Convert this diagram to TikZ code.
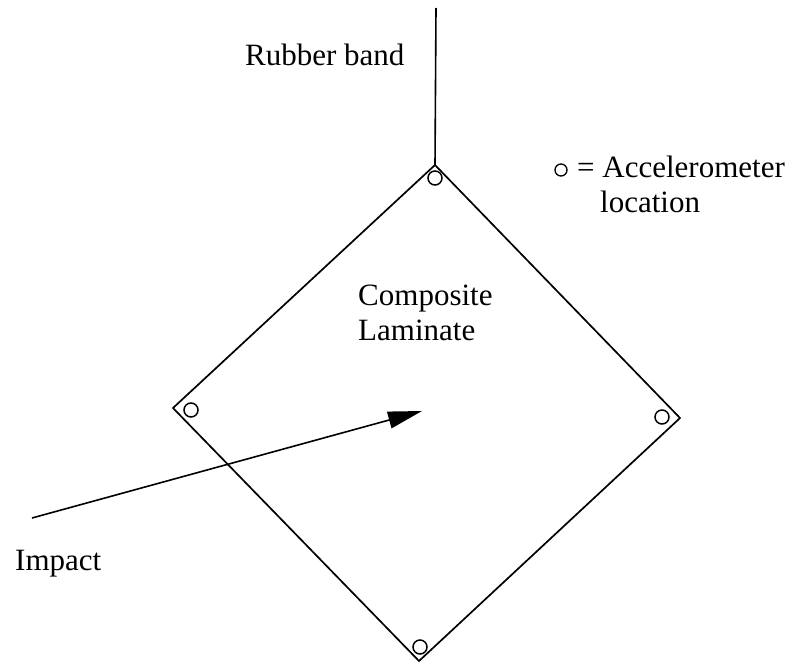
\documentclass[tikz,border=0pt]{standalone}
\usepackage{fontspec}
\setmainfont{Liberation Serif}
\usetikzlibrary{arrows.meta}

\begin{document}
\begin{tikzpicture}[x=1pt,y=-1pt,
  plate/.style={line width=1.7pt, line join=miter},
  band/.style={line width=1.6pt},
  sensor/.style={circle, draw, line width=1.5pt, minimum size=14pt, inner sep=0pt},
  lbl/.style={inner sep=0pt, anchor=base west, font=\fontsize{31}{33}\selectfont},
  impactarrow/.style={line width=1.6pt, -{Triangle[length=34pt,width=17pt]}}]
  \useasboundingbox (0,0) rectangle (805,664);

  % corners of the laminate plate
  \coordinate (T) at (435,165);
  \coordinate (R) at (680,418);
  \coordinate (B) at (419,661);
  \coordinate (L) at (173,408);
  \coordinate (hook) at (436,8);
  \coordinate (impactstart) at (32,518);
  \coordinate (centre) at (422,411);

  % plate outline
  \draw[plate] (T) -- (R) -- (B) -- (L) -- cycle;

  % suspension
  \draw[band] (hook) -- (T);

  % accelerometers near each corner
  \node[sensor] (sT) at (435,178) {};
  \node[sensor] (sR) at (662,417) {};
  \node[sensor] (sB) at (420,647) {};
  \node[sensor] (sL) at (191,410) {};

  % impact direction
  \draw[impactarrow] (impactstart) -- (centre);

  % labels
  \node[lbl] (bandlbl) at (245,65) {Rubber band};
  \node[lbl] (comp) at (358,305) {Composite};
  \node[lbl] (lam) at (358,340) {Laminate};
  \node[lbl] (imp) at (15,570) {Impact};

  % legend
  \node[sensor, minimum size=12pt, line width=1.3pt] (key) at (561,170) {};
  \node[lbl] (keytxt) at (577,177) {= Accelerometer};
  \node[lbl] (keytxt2) at (600,212) {location};
\end{tikzpicture}
\end{document}
